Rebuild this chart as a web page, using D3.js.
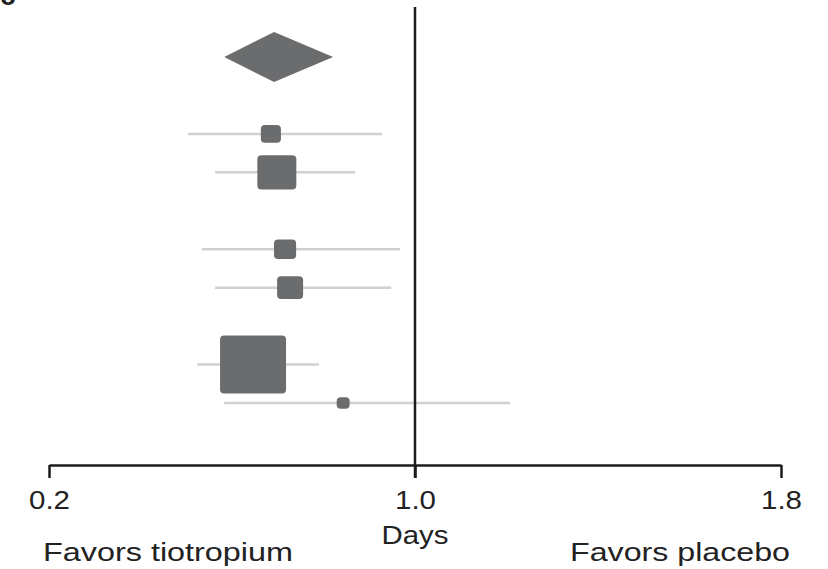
<!DOCTYPE html>
<html>
<head>
<meta charset="utf-8">
<script src="https://cdn.jsdelivr.net/npm/d3@7"></script>
<style>
  html, body { margin: 0; padding: 0; background: #fff; }
  svg { display: block; font-family: "Liberation Sans", Arial, Helvetica, sans-serif; }
</style>
</head>
<body>
<svg id="chart" width="828" height="569"></svg>
<script>
// row slot of each study (blank slots separate the groups)
const studyRows = [2, 3, 5, 6, 8, 9];
const estimates = [0.685, 0.698, 0.716, 0.727, 0.646, 0.843];
const lowerCI = [0.504, 0.563, 0.534, 0.563, 0.524, 0.583];
const upperCI = [0.928, 0.869, 0.967, 0.948, 0.790, 1.208];
const weights = [5.3, 20.0, 6.4, 8.9, 57.3, 2.2];

// pooled estimate (diamond)
const pooledRow = 0;
const pooledEstimate = 0.692;
const pooledLower = 0.583;
const pooledUpper = 0.821;

const tickValues = [0.2, 1.0, 1.8];
const nullValue = 1.0;

const svg = d3.select("#chart");
const axisY = 465;

const x = d3.scaleLinear().domain([0.2, 1.8]).range([49, 781]);
const y = d3.scaleLinear().domain([0, 9]).range([57, 403]);
const size = d3.scaleSqrt().domain([0, 57.3]).range([0, 66]);

const data = studyRows.map((r, i) => ({
  row: r, est: estimates[i], lo: lowerCI[i], hi: upperCI[i], w: weights[i]
}));

// clipped panel letter
svg.append("text")
  .attr("x", 0).attr("y", 5)
  .attr("font-size", 28).attr("font-weight", "bold")
  .attr("fill", "#222")
  .text("c");

// confidence intervals
svg.selectAll("line.ci")
  .data(data)
  .enter()
  .append("line")
  .attr("class", "ci")
  .attr("x1", d => x(d.lo))
  .attr("x2", d => x(d.hi))
  .attr("y1", d => y(d.row))
  .attr("y2", d => y(d.row))
  .attr("stroke", "#d0d0d0")
  .attr("stroke-width", 2.5);

// reference line at 1.0
svg.append("line")
  .attr("x1", x(nullValue)).attr("x2", x(nullValue))
  .attr("y1", 7).attr("y2", axisY + 13)
  .attr("stroke", "#1c1c1c")
  .attr("stroke-width", 2.5);

// study squares
svg.selectAll("rect.study")
  .data(data)
  .enter()
  .append("rect")
  .attr("class", "study")
  .attr("x", d => x(d.est) - size(d.w) / 2)
  .attr("y", d => y(d.row) - size(d.w) * 0.88 / 2)
  .attr("width", d => size(d.w))
  .attr("height", d => size(d.w) * 0.88)
  .attr("rx", 4)
  .attr("fill", "#6b6c6e");

// pooled diamond
const dy = y(pooledRow);
svg.append("path")
  .attr("d", d3.line()([
    [x(pooledLower), dy],
    [x(pooledEstimate), dy - 25],
    [x(pooledUpper), dy],
    [x(pooledEstimate), dy + 25]
  ]) + "Z")
  .attr("fill", "#6b6c6e");

// x axis
const axis = svg.append("g")
  .attr("transform", "translate(0," + axisY + ")")
  .call(d3.axisBottom(x)
    .tickValues(tickValues)
    .tickFormat(d3.format(".1f"))
    .tickSize(13)
    .tickSizeOuter(0)
    .tickPadding(13));

axis.select(".domain").attr("stroke", "#1c1c1c").attr("stroke-width", 2.5);
axis.selectAll(".tick line").attr("stroke", "#1c1c1c").attr("stroke-width", 2.5);
axis.selectAll(".tick text")
  .attr("font-size", 26)
  .attr("font-family", "Liberation Sans, Arial, sans-serif")
  .attr("fill", "#222")
  .attr("textLength", 41)
  .attr("lengthAdjust", "spacingAndGlyphs");

// axis title and direction labels
svg.append("text")
  .attr("x", x(nullValue)).attr("y", 544)
  .attr("text-anchor", "middle")
  .attr("font-size", 26).attr("fill", "#222")
  .attr("textLength", 67).attr("lengthAdjust", "spacingAndGlyphs")
  .text("Days");

svg.append("text")
  .attr("x", 43).attr("y", 561)
  .attr("font-size", 26).attr("fill", "#222")
  .attr("textLength", 250).attr("lengthAdjust", "spacingAndGlyphs")
  .text("Favors tiotropium");

svg.append("text")
  .attr("x", 790).attr("y", 561)
  .attr("text-anchor", "end")
  .attr("font-size", 26).attr("fill", "#222")
  .attr("textLength", 220).attr("lengthAdjust", "spacingAndGlyphs")
  .text("Favors placebo");
</script>
</body>
</html>
